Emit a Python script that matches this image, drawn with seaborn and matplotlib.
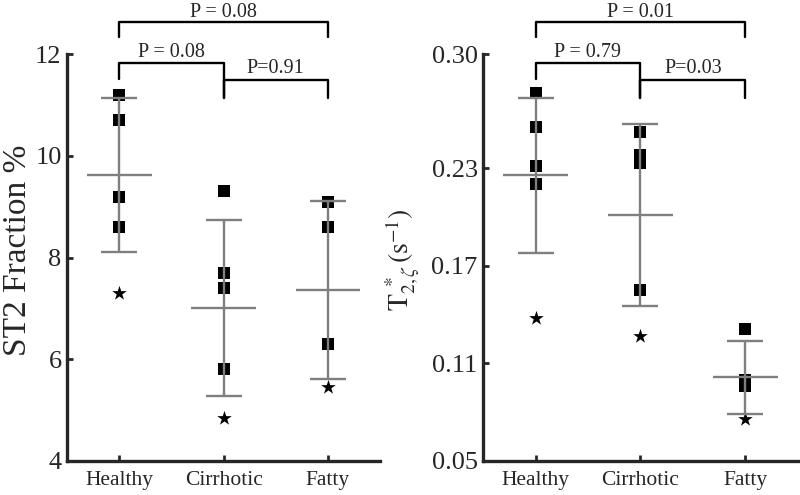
"""
plot.py — ST2 fraction and T2* by liver group (two panels, mean ± SD with p-value brackets)
"""

import numpy as np
import pandas as pd
import matplotlib
matplotlib.use("Agg")
import matplotlib.pyplot as plt
import matplotlib.transforms as mtransforms
import seaborn as sns

# ── Data ───────────────────────────────────────────────────────────────────────
categories = ["Healthy", "Cirrhotic", "Fatty"]

st2_healthy   = [11.2, 10.7, 9.2, 8.6]
st2_cirrhotic = [9.3, 7.7, 7.4, 5.8]
st2_fatty     = [9.1, 8.6, 6.3]
st2_star      = [7.3, 4.85, 5.45]
st2_mean      = [9.62, 7.01, 7.36]
st2_sd        = [1.51, 1.73, 1.75]
st2_pvals     = ["P = 0.08", "P = 0.08", "P=0.91"]   # H-F, H-C, C-F
st2_ticks     = [4, 6, 8, 10, 12]

t2_healthy   = [0.276, 0.255, 0.231, 0.220]
t2_cirrhotic = [0.252, 0.238, 0.233, 0.155]
t2_fatty     = [0.131, 0.100, 0.096]
t2_star      = [0.138, 0.127, 0.076]
t2_mean      = [0.2255, 0.201, 0.1015]
t2_sd        = [0.0475, 0.056, 0.0225]
t2_pvals     = ["P = 0.01", "P = 0.79", "P=0.03"]
t2_ticks     = [0.05, 0.11, 0.17, 0.23, 0.30]

# ── Style ──────────────────────────────────────────────────────────────────────
GRAY  = "#7f7f7f"
sns.set_style("ticks")
plt.rcParams["font.family"] = ["Liberation Serif", "DejaVu Serif"]
plt.rcParams["mathtext.fontset"] = "stix"


def long_frame(groups, stars):
    rows = []
    for cat, vals in zip(categories, groups):
        rows += [(cat, v, "square") for v in vals]
    rows += [(cat, v, "star") for cat, v in zip(categories, stars)]
    return pd.DataFrame(rows, columns=["group", "value", "kind"])


def draw_panel(ax, df, means, sds, pvals, ticks, ylim, tick_fmt, ylabel, label_xy, label_size):
    sq = df[df.kind == "square"]
    st = df[df.kind == "star"]
    sns.stripplot(data=sq, x="group", y="value", order=categories, jitter=False,
                  marker="s", size=8.5, color="black", linewidth=0, ax=ax)
    sns.stripplot(data=st, x="group", y="value", order=categories, jitter=False,
                  marker="*", size=11, color="black", linewidth=0, ax=ax)

    xs = np.arange(len(categories))
    ax.errorbar(xs, means, yerr=sds, fmt="none", ecolor=GRAY, elinewidth=1.7,
                capsize=13, capthick=1.7, zorder=3)
    ax.hlines(means, xs - 0.31, xs + 0.31, color=GRAY, lw=1.7, zorder=3)

    ax.set_xlim(-0.5, 2.5)
    ax.set_ylim(*ylim)
    ax.set_yticks(ticks)
    ax.set_yticklabels([tick_fmt(t) for t in ticks])
    ax.set_xlabel("")
    ax.set_ylabel(ylabel, fontsize=label_size)
    ax.yaxis.set_label_coords(*label_xy)

    sns.despine(ax=ax)
    for s in ("left", "bottom"):
        ax.spines[s].set_linewidth(2.4)
    ax.tick_params(axis="y", direction="in", length=4, width=2, labelsize=19, pad=4)
    ax.tick_params(axis="x", direction="in", length=4, width=2, labelsize=15.5, pad=7)

    # p-value brackets (x in data, y in axes fraction)
    trans = mtransforms.blended_transform_factory(ax.transData, ax.transAxes)
    kw = dict(color="black", lw=1.7, transform=trans, clip_on=False)
    # Healthy – Fatty
    ax.plot([0, 0, 2, 2], [1.041, 1.078, 1.078, 1.041], **kw)
    ax.text(1, 1.103, pvals[0], transform=trans, ha="center", va="center", fontsize=14.5)
    # Healthy – Cirrhotic
    ax.plot([0, 0, 1, 1], [0.938, 0.978, 0.978, 0.893], **kw)
    ax.text(0.5, 1.003, pvals[1], transform=trans, ha="center", va="center", fontsize=14.5)
    # Cirrhotic – Fatty
    ax.plot([1, 1, 2, 2], [0.893, 0.936, 0.936, 0.893], **kw)
    ax.text(1.5, 0.965, pvals[2], transform=trans, ha="center", va="center", fontsize=14.5)


# ── Figure ─────────────────────────────────────────────────────────────────────
fig = plt.figure(figsize=(8, 4.95), dpi=100)
ax1 = fig.add_axes([0.084, 0.0687, 0.391, 0.822])
ax2 = fig.add_axes([0.604, 0.0687, 0.393, 0.822])

draw_panel(ax1, long_frame([st2_healthy, st2_cirrhotic, st2_fatty], st2_star),
           st2_mean, st2_sd, st2_pvals, st2_ticks, (4, 12),
           lambda t: f"{t:d}", "ST2 Fraction %", (-0.108, 0.517), 24)

draw_panel(ax2, long_frame([t2_healthy, t2_cirrhotic, t2_fatty], t2_star),
           t2_mean, t2_sd, t2_pvals, t2_ticks, (0.05, 0.30),
           lambda t: f"{t:.2f}", r"$\mathrm{T}_{2,\zeta}^{\ *}\,(\mathrm{s}^{-1})$",
           (-0.19, 0.494), 20)

fig.savefig("out.png", dpi=100)
plt.close(fig)
